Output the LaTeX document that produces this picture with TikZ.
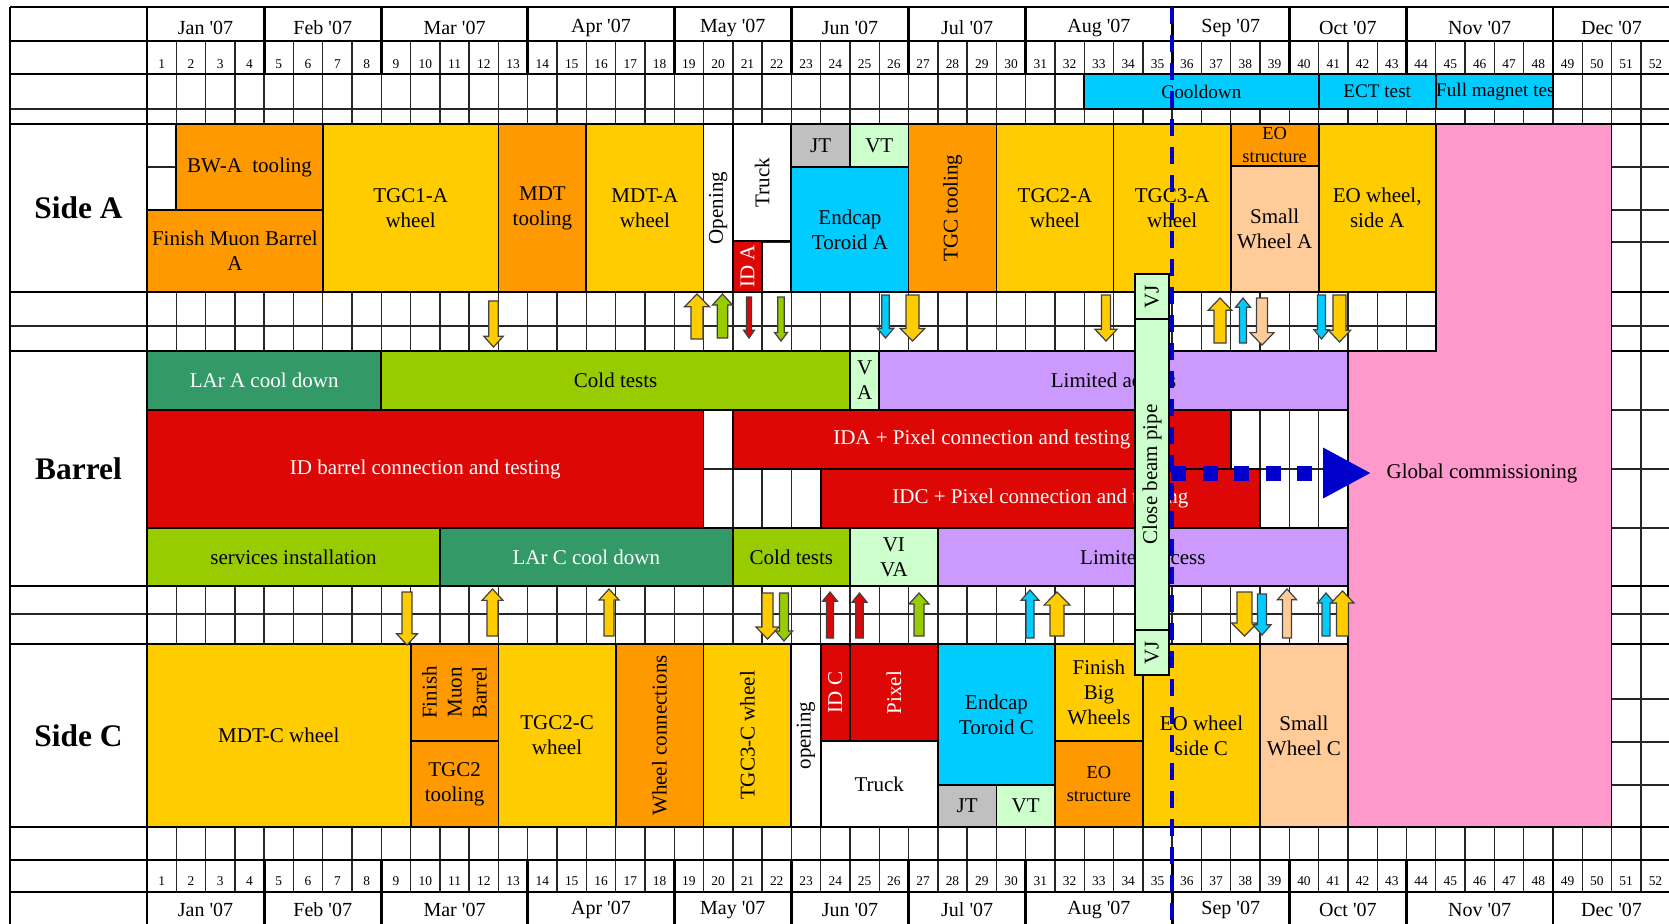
\documentclass[tikz,border=0pt]{standalone}
\usepackage{fontspec}
\setmainfont{Liberation Serif}
\usepackage{xcolor}
\usepackage{tikz}
\usetikzlibrary{arrows.meta}
\definecolor{tgcyellow}{HTML}{FFCC00}
\definecolor{toolorange}{HTML}{FF9900}
\definecolor{toroidcyan}{HTML}{00CCFF}
\definecolor{idred}{HTML}{DD0806}
\definecolor{vtgreen}{HTML}{CCFFCC}
\definecolor{jtgray}{HTML}{C0C0C0}
\definecolor{swpeach}{HTML}{FFCC99}
\definecolor{largreen}{HTML}{339966}
\definecolor{coldgreen}{HTML}{99CC00}
\definecolor{limlilac}{HTML}{CC99FF}
\definecolor{globpink}{HTML}{FF99CC}
\definecolor{markblue}{HTML}{0000CC}
\newcommand{\wk}[1]{(147+29.29*(#1))}
\newcommand{\bodyfont}{\fontsize{10.5}{12.5}\selectfont}
\newcommand{\magnetfont}{\fontsize{9.6}{11.5}\selectfont}
\newcommand{\weekfont}{\fontsize{6.7}{8}\selectfont}
\newcommand{\monthfont}{\fontsize{10}{12}\selectfont}
\newcommand{\sidefont}{\fontsize{15.7}{18}\selectfont\bfseries}
\newcommand{\smallfont}{\fontsize{9.2}{11.5}\selectfont}
\tikzstyle{gridline} = [line width=0.7pt, black!85]
\tikzstyle{midline} = [line width=1pt, black]
\tikzstyle{frameline} = [line width=1.4pt, black]
\tikzstyle{blkline} = [line width=0.9pt, draw=black]
\tikzstyle{blktext} = [inner sep=0pt, align=center, font=\bodyfont]
\tikzstyle{monthlabel} = [inner sep=0pt, font=\monthfont]
\tikzstyle{weeklabel} = [inner sep=0pt, font=\weekfont]
\tikzstyle{sidelabel} = [inner sep=0pt, font=\sidefont]
\tikzstyle{arrline} = [line width=0.6pt, draw=black!75]
\tikzstyle{datedash} = [markblue, line width=2pt, dash pattern=on 8.5pt off 5.5pt]
\tikzstyle{dotarrow} = [markblue, line width=7.5pt, dash pattern=on 7.5pt off 8.3pt,
  -{Triangle[length=24pt, width=23.5pt]}]
% task block: [text opts]{name}{fill}{from week}{to week}{y top}{y bottom}{label}
\newcommand{\blk}[8][]{%
  \draw[blkline, fill=#3] ({\wk{#4}},#6) rectangle ({\wk{#5}},#7);
  \node (#2) [blktext, #1] at ({\wk{(#4+#5)/2}},{(#6+#7)/2}) {#8};}
% block arrow: {fill}{x}{y tail}{y tip}{shaft half}{head half}
\newcommand{\blockarr}[6]{%
  \pgfmathsetmacro{\hbase}{#4+(4+0.7*#6)*((#3>#4)*2-1)}
  \draw[arrline, fill=#1] (#2,#4) -- ({#2-#6},\hbase) -- ({#2-#5},\hbase) -- ({#2-#5},#3)
    -- ({#2+#5},#3) -- ({#2+#5},\hbase) -- ({#2+#6},\hbase) -- cycle;}

\begin{document}
\begin{tikzpicture}[x=0.5pt, y=-0.5pt]
  \useasboundingbox (0,0) rectangle (1669,923);

  % grid
  \foreach \k in {1,...,51}
    \draw[gridline] ({\wk{\k}},41) -- ({\wk{\k}},892);
  \foreach \y in {109,326,614}
    \draw[gridline] (10,\y) -- ({\wk{52}},\y);
  \foreach \y in {167,210,242,410,469,528,699,742,785}
    \draw[gridline] ({\wk{0}},\y) -- ({\wk{52}},\y);
  \foreach \y in {41,74,860,892}
    \draw[midline] (10,\y) -- ({\wk{52}},\y);
  \foreach \y in {7,124,292,351,586,644,827}
    \draw[frameline] (10,\y) -- ({\wk{52}},\y);
  \foreach \k in {4,8,13,18,22,26,30,35,39,43,48} {
    \draw[frameline] ({\wk{\k}},7) -- ({\wk{\k}},74);
    \draw[frameline] ({\wk{\k}},860) -- ({\wk{\k}},926);
  }
  \draw[frameline] (10,7) -- (10,926);
  \draw[frameline] ({\wk{0}},7) -- ({\wk{0}},926);

  % months and weeks
  \foreach \m/\a/\b in {Jan/0/4,Feb/4/8,Mar/8/13,Apr/13/18,May/18/22,Jun/22/26,
                        Jul/26/30,Aug/30/35,Sep/35/39,Oct/39/43,Nov/43/48,Dec/48/52} {
    \node (mt\m) [monthlabel] at ({\wk{(\a+\b)/2}},27.5) {\m\ \textquotesingle07};
    \node (mb\m) [monthlabel] at ({\wk{(\a+\b)/2}},909.5) {\m\ \textquotesingle07};
  }
  \foreach \k in {1,...,52} {
    \node (wt\k) [weeklabel] at ({\wk{\k-0.5}},64) {\k};
    \node (wb\k) [weeklabel] at ({\wk{\k-0.5}},881) {\k};
  }

  \node (sidea)  [sidelabel] at (78.5,208)   {Side A};
  \node (barrel) [sidelabel] at (78.5,468.5) {Barrel};
  \node (sidec)  [sidelabel] at (78.5,735.5) {Side C};

  % global commissioning
  \draw[blkline, fill=globpink] ({\wk{44}},124) -- ({\wk{50}},124) -- ({\wk{50}},827)
    -- ({\wk{41}},827) -- ({\wk{41}},351) -- ({\wk{44}},351) -- cycle;

  % magnet tests
  \blk[font=\magnetfont]{cool}{toroidcyan}{32}{40}{74}{109}{Cooldown}
  \blk[font=\magnetfont]{ect}{toroidcyan}{40}{44}{74}{109}{ECT test}
  \draw[blkline, fill=toroidcyan] ({\wk{44}},74) rectangle ({\wk{48}},109);
  \begin{scope}
    \clip ({\wk{44}},74) rectangle ({\wk{48}},109);
    \node (fmt) [blktext, font=\magnetfont, anchor=west] at ({\wk{44}},92) {Full magnet tes};
  \end{scope}

  % side A
  \blk{bwa}{toolorange}{1}{6}{124}{210}{BW-A\ \ tooling}
  \blk{fmba}{toolorange}{0}{6}{210}{292}{Finish Muon Barrel\\A}
  \blk{tgc1a}{tgcyellow}{6}{12}{124}{292}{TGC1-A\\wheel}
  \blk{mdttool}{toolorange}{12}{15}{124}{292}{MDT\\tooling}
  \blk{mdta}{tgcyellow}{15}{19}{124}{292}{MDT-A\\wheel}
  \blk[rotate=90]{opena}{white}{19}{20}{124}{292}{Opening}
  \blk[rotate=90]{trucka}{white}{20}{22}{124}{241}{Truck}
  \blk[rotate=90, text=white]{ida}{idred}{20}{21}{241}{292}{ID A}
  \blk{jta}{jtgray}{22}{24}{124}{167}{JT}
  \blk{vta}{vtgreen}{24}{26}{124}{167}{VT}
  \blk{ecta}{toroidcyan}{22}{26}{167}{292}{Endcap\\Toroid A}
  \blk[rotate=90]{tgctool}{toolorange}{26}{29}{124}{292}{TGC tooling}
  \blk{tgc2a}{tgcyellow}{29}{33}{124}{292}{TGC2-A\\wheel}
  \blk{tgc3a}{tgcyellow}{33}{37}{124}{292}{TGC3-A\\wheel}
  \blk[font=\smallfont]{eosa}{toolorange}{37}{40}{124}{166}{EO\\structure}
  \blk{swa}{swpeach}{37}{40}{166}{292}{Small\\Wheel A}
  \blk{eowa}{tgcyellow}{40}{44}{124}{292}{EO wheel,\\side A}

  % barrel
  \blk[text=white]{lara}{largreen}{0}{8}{351}{410}{LAr A cool down}
  \blk{colda}{coldgreen}{8}{24}{351}{410}{Cold tests}
  \blk{vab}{vtgreen}{24}{25}{351}{410}{V\\A}
  \blk{lima}{limlilac}{25}{41}{351}{410}{Limited access}
  \blk[text=white]{idb}{idred}{0}{19}{410}{528}{ID barrel connection and testing}
  \blk[text=white]{idap}{idred}{20}{37}{410}{469}{IDA + Pixel connection and testing}
  \blk[text=white]{idcp}{idred}{23}{38}{469}{528}{IDC + Pixel connection and testing}
  \blk{serv}{coldgreen}{0}{10}{528}{586}{services installation}
  \blk[text=white]{larc}{largreen}{10}{20}{528}{586}{LAr C cool down}
  \blk{coldc}{coldgreen}{20}{24}{528}{586}{Cold tests}
  \blk{viva}{vtgreen}{24}{27}{528}{586}{VI\\VA}
  \blk{limc}{limlilac}{27}{41}{528}{586}{Limited access}

  % side C
  \blk{mdtc}{tgcyellow}{0}{9}{644}{827}{MDT-C wheel}
  \blk[rotate=90]{fmbc}{toolorange}{9}{12}{644}{741}{Finish\\Muon\\Barrel}
  \blk{tgc2t}{toolorange}{9}{12}{741}{827}{TGC2\\tooling}
  \blk{tgc2c}{tgcyellow}{12}{16}{644}{827}{TGC2-C\\wheel}
  \blk[rotate=90]{wconn}{toolorange}{16}{19}{644}{827}{Wheel connections}
  \blk[rotate=90]{tgc3c}{tgcyellow}{19}{22}{644}{827}{TGC3-C wheel}
  \blk[rotate=90]{openc}{white}{22}{23}{644}{827}{opening}
  \blk[rotate=90, text=white]{idc}{idred}{23}{24}{644}{741}{ID C}
  \blk[rotate=90, text=white]{pix}{idred}{24}{27}{644}{741}{Pixel}
  \blk{truckc}{white}{23}{27}{741}{827}{Truck}
  \blk{ectc}{toroidcyan}{27}{31}{644}{785}{Endcap\\Toroid C}
  \blk{jtc}{jtgray}{27}{29}{785}{827}{JT}
  \blk{vtc}{vtgreen}{29}{31}{785}{827}{VT}
  \blk{fbw}{tgcyellow}{31}{34}{644}{741}{Finish\\Big\\Wheels}
  \blk[font=\smallfont]{eosc}{toolorange}{31}{34}{741}{827}{EO\\structure}
  \blk{eowc}{tgcyellow}{34}{38}{644}{827}{EO wheel\\side C}
  \blk{swc}{swpeach}{38}{41}{644}{827}{Small\\Wheel C}

  % transfers
  \foreach \c/\x/\t/\h/\s/\w in {
      tgcyellow/493.5/301/347/4.7/9.8, tgcyellow/697/339/294/6/12.5,
      coldgreen/722.5/338/294/5.3/10, idred/749/297/338/2.5/5.5,
      coldgreen/781/297/341/3.3/6.5, toroidcyan/885.5/295/338/3.7/8.3,
      tgcyellow/912.5/295/341/6.5/12.3, tgcyellow/1106/295/341/4.5/11,
      tgcyellow/1220/343/298/6/11.7, toroidcyan/1243/343/298/3.5/7.5,
      swpeach/1262/298/345/5.5/12, toroidcyan/1321.5/295/339/4/7.5,
      tgcyellow/1339.5/295/342/6.5/11,
      tgcyellow/407/592/645/5/10.5, tgcyellow/492.5/636/589/5.5/10.5,
      tgcyellow/609/636/589/5/10, tgcyellow/767.5/593/639/5.5/11.5,
      coldgreen/784/593/641/4.5/8.5, idred/830/638/592/3.5/7.5,
      idred/859.5/638/593/3.7/7.5, coldgreen/919/636/593/5/10,
      toroidcyan/1030/638/590/4/9, tgcyellow/1057/636/592/7/13,
      tgcyellow/1244.5/592/636/7.5/13, toroidcyan/1262/594/635/4.5/9,
      swpeach/1287/638/589/4.5/9.5, toroidcyan/1326/636/593/4/8.5,
      tgcyellow/1342.5/636/591/6/11.5}
    \blockarr{\c}{\x}{\t}{\h}{\s}{\w};

  % beam pipe
  \draw[blkline, fill=vtgreen] (1135,274) rectangle (1169,319);
  \node (vjtop) [blktext, rotate=90] at (1152,296.5) {VJ};
  \draw[blkline, fill=vtgreen] (1135,319) rectangle (1169,630);
  \node (pipe) [blktext, rotate=90] at (1152,474.5) {Close beam pipe};
  \draw[blkline, fill=vtgreen] (1135,630) rectangle (1169,675);
  \node (vjbot) [blktext, rotate=90] at (1152,652.5) {VJ};

  % today
  \coordinate (nowtop) at (1172,7);
  \coordinate (nowbot) at (1172,923);
  \draw[datedash] (nowtop) -- (nowbot);

  \coordinate (gstart) at (1171,473);
  \node (glob) [blktext, inner sep=7.5pt] at (1482,473) {Global commissioning};
  \draw[dotarrow] (gstart) -- (glob.west);
\end{tikzpicture}
\end{document}
